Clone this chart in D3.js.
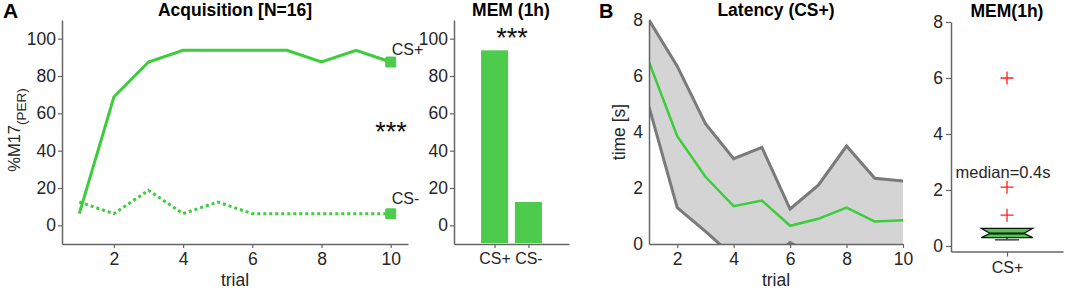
<!DOCTYPE html>
<html><head><meta charset="utf-8">
<script src="https://d3js.org/d3.v7.min.js"></script>
<style>
body{margin:0;background:#fff;}
svg text{font-family:"Liberation Sans",Arial,sans-serif;fill:#262626;}
</style></head>
<body>
<svg id="c" width="1065" height="291"></svg>
<script>
// ---- data ----
const trials = [1,2,3,4,5,6,7,8,9,10];
const csPlus = [6.25,68.75,87.5,93.75,93.75,93.75,93.75,87.5,93.75,87.5];
const csMinus = [12.5,6.25,18.75,6.25,12.5,6.25,6.25,6.25,6.25,6.25];
const memCategories = ["CS+","CS-"];
const memValues = [93.75,12.5];
const pctTicks = [0,20,40,60,80,100];
const trialTicks = [2,4,6,8,10];
const latMedian = [6.5,3.85,2.4,1.35,1.55,0.65,0.9,1.3,0.8,0.85];
const latUpper  = [8.0,6.35,4.3,3.05,3.45,1.25,2.1,3.5,2.35,2.25];
const latLower  = [4.9,1.3,0.45,-0.45,-0.8,0.05,-0.5,-0.5,-0.6,-0.6];
const latTicks = [0,2,4,6,8];
const boxStats = {q1:0.3, median:0.45, q3:0.63, whiskerLow:0.22, whiskerHigh:0.63};
const boxOutliers = [1.1,2.1,6.0];

const svg = d3.select("#c");
const green = "#4ccb4c", lineGreen = "#3ccc3c", axisCol = "#666";
const F = 17.5, TF = 17.5, CF = 16;

function styleAxis(g, size){
  g.selectAll(".domain").attr("stroke",axisCol).attr("stroke-width",1.5);
  g.selectAll(".tick line").attr("stroke",axisCol).attr("stroke-width",1.2);
  g.selectAll(".tick text").attr("font-size",size||F).attr("fill","#262626").style("font-family","Liberation Sans,Arial,sans-serif");
}

// ===== Panel A: acquisition =====
const xA = d3.scaleLinear().domain([0.5,10.5]).range([62,408]);
const yA = d3.scaleLinear().domain([-10,110]).range([244,20]);
svg.append("g").attr("transform","translate(0,244)")
  .call(d3.axisBottom(xA).tickValues(trialTicks).tickSize(4).tickPadding(5).tickSizeOuter(0)).call(styleAxis);
svg.append("g").attr("transform","translate(62,0)")
  .call(d3.axisLeft(yA).tickValues(pctTicks).tickSize(4).tickPadding(2).tickSizeOuter(0)).call(styleAxis);
const lineA = d3.line().x((d,i)=>xA(trials[i])).y(d=>yA(d));
svg.append("path").datum(csPlus).attr("d",lineA).attr("fill","none").attr("stroke",lineGreen).attr("stroke-width",3);
svg.append("path").datum(csMinus).attr("d",lineA).attr("fill","none").attr("stroke",lineGreen).attr("stroke-width",3).attr("stroke-dasharray","3,3");
[csPlus,csMinus].forEach(s=>{
  const v=s[s.length-1];
  svg.append("rect").attr("x",xA(10)-5.5).attr("y",yA(v)-5.5).attr("width",11).attr("height",11).attr("rx",1.5).attr("fill",green);
});
svg.append("text").attr("x",xA(10)+1).attr("y",yA(csPlus[9])-7).attr("font-size",CF).text("CS+");
svg.append("text").attr("x",xA(10)+1).attr("y",yA(csMinus[9])-10).attr("font-size",CF).text("CS-");
svg.append("text").attr("x",391).attr("y",141).attr("text-anchor","middle").attr("font-size",27).style("fill","#111").text("***");
svg.append("text").attr("x",235).attr("y",16).attr("text-anchor","middle").attr("font-size",TF).attr("font-weight","bold").style("fill","#000").text("Acquisition [N=16]");
svg.append("text").attr("x",3).attr("y",18).attr("font-size",21).attr("font-weight","bold").style("fill","#000").text("A");
const yl = svg.append("text").attr("transform","translate(20,"+(yA(50)-2)+") rotate(-90)").attr("text-anchor","middle").attr("font-size",16.5);
yl.append("tspan").text("%M17");
yl.append("tspan").attr("font-size",13.5).attr("dy",6).text("(PER)");
svg.append("text").attr("x",xA(5.5)).attr("y",286).attr("text-anchor","middle").attr("font-size",F).text("trial");

// ===== Panel A: MEM bar =====
const xB = d3.scaleLinear().domain([-0.2,3.2]).range([454,569]);
svg.append("g").attr("transform","translate(0,244)")
  .call(d3.axisBottom(xB).tickValues([1,2]).tickFormat((d,i)=>memCategories[i]).tickSize(4).tickPadding(5).tickSizeOuter(0)).call(g=>styleAxis(g,CF));
svg.append("g").attr("transform","translate(454,0)")
  .call(d3.axisLeft(yA).tickValues(pctTicks).tickSize(4).tickPadding(2).tickSizeOuter(0)).call(styleAxis);
svg.selectAll(".bar").data(memValues).enter().append("rect")
  .attr("x",(d,i)=>xB(i+1-0.4)).attr("width",xB(0.8)-xB(0))
  .attr("y",d=>yA(d)).attr("height",d=>yA(-10)-yA(d)-0.8).attr("fill",green);
svg.append("text").attr("x",512).attr("y",47).attr("text-anchor","middle").attr("font-size",27).style("fill","#111").text("***");
svg.append("text").attr("x",511).attr("y",16).attr("text-anchor","middle").attr("font-size",TF).attr("font-weight","bold").style("fill","#000").text("MEM (1h)");

// ===== Panel B: latency =====
const xL = d3.scaleLinear().domain([1,10]).range([649,903]);
const yL = d3.scaleLinear().domain([0,8]).range([244,20]);
const defs = svg.append("defs");
defs.append("clipPath").attr("id","clipL").append("rect").attr("x",xL(1)).attr("y",yL(8)-2).attr("width",xL(10)-xL(1)+2).attr("height",yL(0)-yL(8)+2);
const gL = svg.append("g").attr("clip-path","url(#clipL)");
gL.append("path").datum(trials).attr("d",d3.area().x(d=>xL(d)).y0((d,i)=>yL(latLower[i])).y1((d,i)=>yL(latUpper[i])))
  .attr("fill","#d4d4d4");
const lineL = d3.line().x((d,i)=>xL(trials[i])).y(d=>yL(d));
[latUpper,latLower].forEach(s=>gL.append("path").datum(s).attr("d",lineL).attr("fill","none").attr("stroke","#7a7a7a").attr("stroke-width",3));
gL.append("path").datum(latMedian).attr("d",lineL).attr("fill","none").attr("stroke",lineGreen).attr("stroke-width",2.5);
svg.append("g").attr("transform","translate(0,244)")
  .call(d3.axisBottom(xL).tickValues(trialTicks).tickSize(4).tickPadding(5).tickSizeOuter(0)).call(styleAxis);
svg.append("g").attr("transform","translate(649,0)")
  .call(d3.axisLeft(yL).tickValues(latTicks).tickSize(0).tickPadding(6).tickSizeOuter(0)).call(styleAxis);
svg.append("text").attr("x",776).attr("y",16).attr("text-anchor","middle").attr("font-size",TF).attr("font-weight","bold").style("fill","#000").text("Latency (CS+)");
svg.append("text").attr("x",599).attr("y",18).attr("font-size",20).attr("font-weight","bold").style("fill","#000").text("B");
svg.append("text").attr("transform","translate(625,"+yL(4)+") rotate(-90)").attr("text-anchor","middle").attr("font-size",F).text("time [s]");
svg.append("text").attr("x",xL(5.5)).attr("y",286).attr("text-anchor","middle").attr("font-size",F).text("trial");

// ===== Panel B: MEM box =====
const xM = d3.scaleLinear().domain([0,2]).range([951,1063]);
const yM = d3.scaleLinear().domain([-0.2,8]).range([251.6,22]);
svg.append("g").attr("transform","translate(0,251.6)")
  .call(d3.axisBottom(xM).tickValues([1]).tickFormat(()=>"CS+").tickSize(5).tickPadding(5).tickSizeOuter(0)).call(g=>styleAxis(g,CF));
svg.append("g").attr("transform","translate(951,0)")
  .call(d3.axisLeft(yM).tickValues(latTicks).tickSize(5).tickPadding(3).tickSizeOuter(0)).call(styleAxis);
const cx = xM(1), hw = 0.46, nw = 0.3;
svg.append("line").attr("x1",cx-12).attr("x2",cx+12).attr("y1",yM(boxStats.whiskerLow)).attr("y2",yM(boxStats.whiskerLow)).attr("stroke","#444").attr("stroke-width",1.5);
svg.append("line").attr("x1",cx).attr("x2",cx).attr("y1",yM(boxStats.whiskerLow)).attr("y2",yM(boxStats.q1)).attr("stroke","#444").attr("stroke-width",1.5);
const pts = [[1-hw,boxStats.q3],[1+hw,boxStats.q3],[1+nw,boxStats.median],[1+hw,boxStats.q1],[1-hw,boxStats.q1],[1-nw,boxStats.median]];
svg.append("polygon").attr("points",pts.map(p=>xM(p[0])+","+yM(p[1])).join(" ")).attr("fill",green).attr("stroke","#111").attr("stroke-width",1.2);
svg.append("line").attr("x1",xM(1-nw)).attr("x2",xM(1+nw)).attr("y1",yM(boxStats.median)).attr("y2",yM(boxStats.median)).attr("stroke","#111").attr("stroke-width",2);
svg.selectAll(".out").data(boxOutliers).enter().append("path")
  .attr("d",d=>`M${cx-6.5},${yM(d)}H${cx+6.5}M${cx},${yM(d)-6.5}V${yM(d)+6.5}`).attr("stroke","#ff2020").attr("stroke-width",1.3);
svg.append("text").attr("x",1003).attr("y",178).attr("text-anchor","middle").attr("font-size",16.5).text("median=0.4s");
svg.append("text").attr("x",1007).attr("y",17).attr("text-anchor","middle").attr("font-size",TF).attr("font-weight","bold").style("fill","#000").text("MEM(1h)");
</script>
</body></html>
